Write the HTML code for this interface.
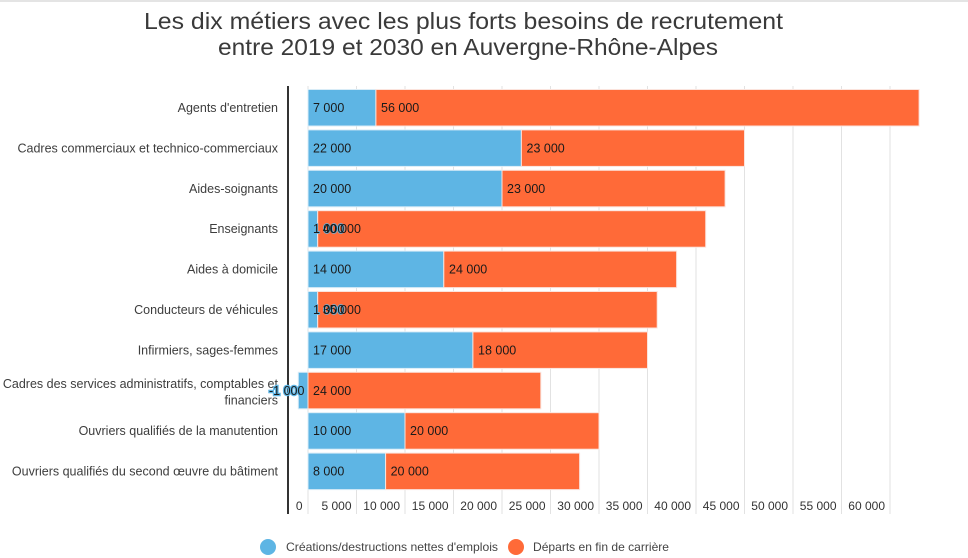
<!DOCTYPE html>
<html><head><meta charset="utf-8">
<style>
html,body{margin:0;padding:0;background:#fff;}
svg{display:block;font-family:"Liberation Sans",sans-serif;}
</style></head>
<body>
<svg width="968" height="558" viewBox="0 0 968 558" xmlns="http://www.w3.org/2000/svg">
<rect x="0" y="0" width="968" height="558" fill="#fff"/>
<rect x="0" y="0" width="968" height="2" fill="#e4e4e4"/>
<!-- title -->
<g fill="#3a3a3a" font-size="23" text-anchor="start">
<text x="144" y="29" textLength="639" lengthAdjust="spacingAndGlyphs">Les dix métiers avec les plus forts besoins de recrutement</text>
<text x="218" y="55" textLength="500" lengthAdjust="spacingAndGlyphs">entre 2019 et 2030 en Auvergne-Rhône-Alpes</text>
</g>
<!-- gridlines -->
<g stroke="#e2e2e2" stroke-width="1">
<line x1="308" y1="86" x2="308" y2="514"/>
<line x1="356.5" y1="86" x2="356.5" y2="514"/>
<line x1="405" y1="86" x2="405" y2="514"/>
<line x1="453.5" y1="86" x2="453.5" y2="514"/>
<line x1="502" y1="86" x2="502" y2="514"/>
<line x1="550.5" y1="86" x2="550.5" y2="514"/>
<line x1="599" y1="86" x2="599" y2="514"/>
<line x1="647.5" y1="86" x2="647.5" y2="514"/>
<line x1="696" y1="86" x2="696" y2="514"/>
<line x1="744.5" y1="86" x2="744.5" y2="514"/>
<line x1="793" y1="86" x2="793" y2="514"/>
<line x1="841.5" y1="86" x2="841.5" y2="514"/>
<line x1="890" y1="86" x2="890" y2="514"/>
</g>
<!-- axis -->
<line x1="288" y1="86" x2="288" y2="514" stroke="#333" stroke-width="2"/>
<!-- bars -->
<g stroke="#fbe3dc" stroke-width="1">
<rect x="308" y="89.5" width="67.9" height="36.5" fill="#5eb5e4" stroke="#d8ecf7"/>
<rect x="375.9" y="89.5" width="543.2" height="36.5" fill="#ff6a38"/>
<rect x="308" y="129.9" width="213.4" height="36.5" fill="#5eb5e4" stroke="#d8ecf7"/>
<rect x="521.4" y="129.9" width="223.1" height="36.5" fill="#ff6a38"/>
<rect x="308" y="170.3" width="194" height="36.5" fill="#5eb5e4" stroke="#d8ecf7"/>
<rect x="502" y="170.3" width="223.1" height="36.5" fill="#ff6a38"/>
<rect x="308" y="210.7" width="9.7" height="36.5" fill="#5eb5e4" stroke="#d8ecf7"/>
<rect x="317.7" y="210.7" width="388" height="36.5" fill="#ff6a38"/>
<rect x="308" y="251.1" width="135.8" height="36.5" fill="#5eb5e4" stroke="#d8ecf7"/>
<rect x="443.8" y="251.1" width="232.8" height="36.5" fill="#ff6a38"/>
<rect x="308" y="291.5" width="9.7" height="36.5" fill="#5eb5e4" stroke="#d8ecf7"/>
<rect x="317.7" y="291.5" width="339.5" height="36.5" fill="#ff6a38"/>
<rect x="308" y="331.9" width="164.9" height="36.5" fill="#5eb5e4" stroke="#d8ecf7"/>
<rect x="472.9" y="331.9" width="174.6" height="36.5" fill="#ff6a38"/>
<rect x="298.3" y="372.3" width="9.7" height="36.5" fill="#5eb5e4" stroke="#d8ecf7"/>
<rect x="308" y="372.3" width="232.8" height="36.5" fill="#ff6a38"/>
<rect x="308" y="412.7" width="97" height="36.5" fill="#5eb5e4" stroke="#d8ecf7"/>
<rect x="405" y="412.7" width="194" height="36.5" fill="#ff6a38"/>
<rect x="308" y="453.1" width="77.6" height="36.5" fill="#5eb5e4" stroke="#d8ecf7"/>
<rect x="385.6" y="453.1" width="194" height="36.5" fill="#ff6a38"/>
</g>
<!-- category labels -->
<g fill="#3d3d3d" font-size="12.5" text-anchor="end">
<text x="278" y="112">Agents d'entretien</text>
<text x="278" y="152.4">Cadres commerciaux et technico-commerciaux</text>
<text x="278" y="192.8">Aides-soignants</text>
<text x="278" y="233.2">Enseignants</text>
<text x="278" y="273.6">Aides à domicile</text>
<text x="278" y="314">Conducteurs de véhicules</text>
<text x="278" y="354.4">Infirmiers, sages-femmes</text>
<text x="278" y="388">Cadres des services administratifs, comptables et</text>
<text x="278" y="404.5">financiers</text>
<text x="278" y="435.2">Ouvriers qualifiés de la manutention</text>
<text x="278" y="475.6">Ouvriers qualifiés du second œuvre du bâtiment</text>
</g>
<!-- value labels -->
<g fill="#1a1a1a" font-size="12.5">
<text x="313" y="112">7 000</text>
<text x="381" y="112">56 000</text>
<text x="313" y="152.4">22 000</text>
<text x="526.5" y="152.4">23 000</text>
<text x="313" y="192.8">20 000</text>
<text x="507" y="192.8">23 000</text>
<text x="313" y="233.2" stroke="#5eb5e4" stroke-width="1.5" paint-order="stroke">1 000</text>
<text x="322.7" y="233.2">40 000</text>
<text x="313" y="273.6">14 000</text>
<text x="449" y="273.6">24 000</text>
<text x="313" y="314" stroke="#5eb5e4" stroke-width="1.5" paint-order="stroke">1 000</text>
<text x="322.7" y="314">35 000</text>
<text x="313" y="354.4">17 000</text>
<text x="478" y="354.4">18 000</text>
<text x="269" y="394.8" stroke="#5eb5e4" stroke-width="2.5" paint-order="stroke">-1 000</text>
<text x="313" y="394.8">24 000</text>
<text x="313" y="435.2">10 000</text>
<text x="410" y="435.2">20 000</text>
<text x="313" y="475.6">8 000</text>
<text x="390.6" y="475.6">20 000</text>
</g>
<!-- tick labels -->
<g fill="#333" font-size="12" text-anchor="end">
<text x="302.5" y="510">0</text>
<text x="351.5" y="510">5 000</text>
<text x="400" y="510">10 000</text>
<text x="448.5" y="510">15 000</text>
<text x="497" y="510">20 000</text>
<text x="545.5" y="510">25 000</text>
<text x="594" y="510">30 000</text>
<text x="642.5" y="510">35 000</text>
<text x="691" y="510">40 000</text>
<text x="739.5" y="510">45 000</text>
<text x="788" y="510">50 000</text>
<text x="836.5" y="510">55 000</text>
<text x="885" y="510">60 000</text>
</g>
<!-- legend -->
<circle cx="268" cy="547" r="8" fill="#5eb5e4"/>
<text x="286" y="551" font-size="12" fill="#444" textLength="212" lengthAdjust="spacingAndGlyphs">Créations/destructions nettes d'emplois</text>
<circle cx="516" cy="547" r="8" fill="#ff6a38"/>
<text x="533" y="551" font-size="12" fill="#444" textLength="136" lengthAdjust="spacingAndGlyphs">Départs en fin de carrière</text>
</svg>
</body></html>
